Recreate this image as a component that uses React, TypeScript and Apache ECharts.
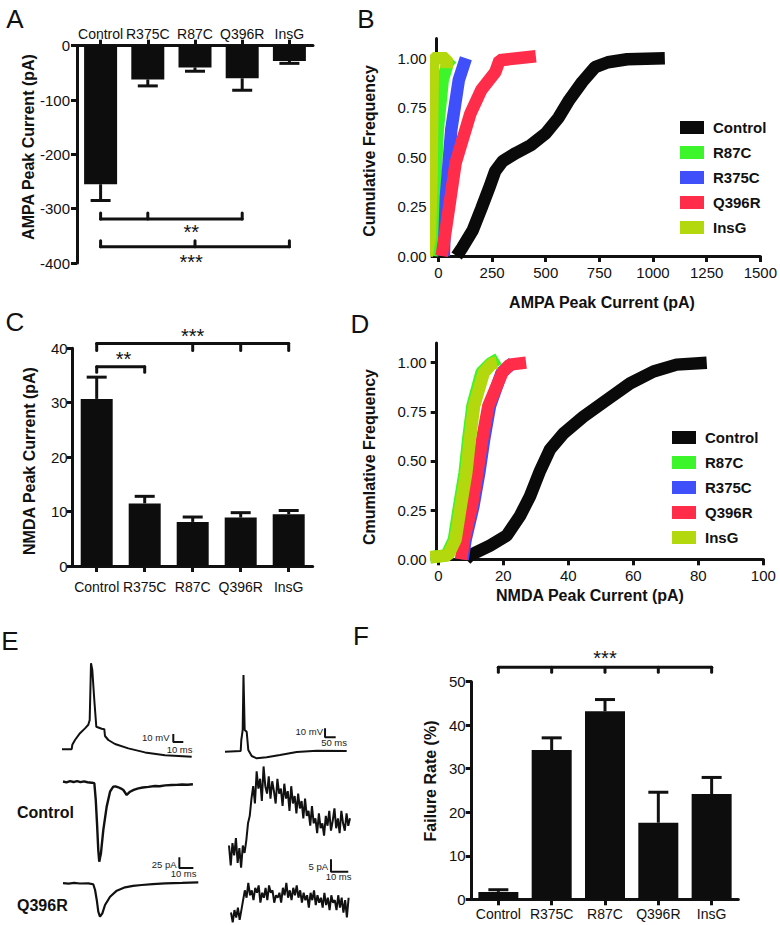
import React, { useEffect, useRef } from "react";
import * as echarts from "echarts";

const FONT = '"Liberation Sans", Arial, Helvetica, sans-serif';
const INK = "#111111";

// ---------------- Bar panels (A, C, F) ----------------
const groups = ["Control", "R375C", "R87C", "Q396R", "InsG"];
const ampaMean = [-255, -62, -40, -60, -28];
const ampaSem = [30, 12, 7, 22, 4.5];
const nmdaMean = [30.7, 11.5, 8.1, 8.9, 9.5];
const nmdaSem = [4.0, 1.3, 0.9, 0.9, 0.7];
const failMean = [1.7, 34.3, 43.2, 17.6, 24.2];
const failSem = [0.5, 2.8, 2.7, 7.0, 3.8];

// significance brackets (category indices, value levels)
const bracketsA = [
  { from: 0, to: 3, ticks: [0, 1, 3], level: -319, tickTo: -308, label: "**", labelX: 1.92, labelAt: -343 },
  { from: 0, to: 4, ticks: [0, 2, 4], level: -370, tickTo: -359, label: "***", labelX: 1.92, labelAt: -398 },
];
const bracketsC = [
  { from: 0, to: 4, ticks: [0, 2, 3, 4], level: 40.9, tickTo: 39.6, label: "***", labelX: 2, labelAt: 42.3 },
  { from: 0, to: 1, ticks: [0, 1], level: 36.6, tickTo: 35.6, label: "**", labelX: 0.56, labelAt: 38.1 },
];
const bracketsF = [
  { from: 0, to: 4, ticks: [0, 1, 2, 3, 4], level: 53.3, tickTo: 52.2, label: "***", labelX: 2, labelAt: 55.5 },
];

// ---------------- Cumulative panels (B, D) ----------------
const cdfNames = ["Control", "R87C", "R375C", "Q396R", "InsG"];
const cdfColors = ["#0a0a0a", "#3cf52a", "#3f4ffa", "#ff2d4a", "#b4d80e"];
const cdfYTicks = [0, 0.25, 0.5, 0.75, 1];
const ampaCdfXTicks = [0, 250, 500, 750, 1000, 1250, 1500];
const nmdaCdfXTicks = [0, 20, 40, 60, 80, 100];

const ampaControlX = [85, 110, 160, 200, 235, 265, 300, 360, 430, 500, 560, 610, 670, 730, 790, 880, 1055];
const ampaControlY = [0, 0.04, 0.13, 0.24, 0.34, 0.43, 0.48, 0.52, 0.56, 0.62, 0.7, 0.79, 0.88, 0.955, 0.98, 0.995, 1.0];
const ampaR87CX = [-30, -26, -18, -3, 20, 45, 62];
const ampaR87CY = [0, 0.05, 0.3, 0.64, 0.89, 0.98, 1.0];
const ampaR375CX = [25, 35, 60, 95, 128];
const ampaR375CY = [0, 0.3, 0.64, 0.89, 1.0];
const ampaQ396RX = [15, 34, 80, 149, 200, 265, 285, 454];
const ampaQ396RY = [0, 0.13, 0.47, 0.72, 0.84, 0.93, 0.99, 1.01];
const ampaInsGX = [-55, -40, -32, -28, -25, 38, 38];
const ampaInsGY = [0, 0.1, 0.4, 0.8, 1.0, 1.0, 0.95];

const nmdaControlX = [8.5, 9.7, 15.9, 21, 25.1, 28.2, 31.3, 34.4, 38.5, 44.6, 51.8, 59, 66.2, 73.3, 82.6];
const nmdaControlY = [0, 0.02, 0.07, 0.12, 0.22, 0.32, 0.45, 0.56, 0.64, 0.725, 0.81, 0.895, 0.955, 0.99, 1.0];
const nmdaR87CX = [-2.5, 2.5, 4.8, 6.4, 8.1, 9.2, 10.5, 13.3, 16, 18.5];
const nmdaR87CY = [0.01, 0.02, 0.1, 0.27, 0.44, 0.61, 0.78, 0.95, 0.995, 1.02];
const nmdaR375CX = [7.5, 8.4, 10.8, 12.6, 14.1, 15.9, 19.5, 23];
const nmdaR375CY = [0, 0.1, 0.27, 0.44, 0.61, 0.78, 0.95, 1.0];
const nmdaQ396RX = [7, 7.9, 10.3, 12, 13.5, 15.4, 19.7, 22, 27];
const nmdaQ396RY = [0, 0.1, 0.27, 0.44, 0.61, 0.78, 0.95, 0.99, 1.0];
const nmdaInsGX = [-2.5, 3, 5.3, 6.9, 8.6, 9.7, 11.0, 14.0, 16.5, 18];
const nmdaInsGY = [0.01, 0.02, 0.1, 0.27, 0.44, 0.61, 0.78, 0.95, 0.995, 1.0];

// ---------------- Example traces (E) ----------------
// presynaptic action potentials (ms, mV)
const apLeftMs = [0, 9.7, 10.3, 13, 18, 23, 26.3, 27.7, 29, 30.3, 32.3, 34.3, 39.7, 42.3, 43, 46.3, 53, 66.3, 83, 103, 129.7];
const apLeftMv = [-66.5, -66.5, -61, -55, -46.5, -40.5, -36, -30, 41, 32.5, -5, -38.5, -41, -41.5, -50, -55, -60, -65.5, -70.5, -74, -76];
const apRightMs = [0, 73.6, 76.4, 79.7, 82.9, 86.7, 92.3, 101.7, 109.2, 125.2, 148.6, 195.5, 257.8, 336.2, 429.9, 570.5];
const apRightMv = [-70.2, -69.4, -57.2, -51.7, -46.1, 15, -46.1, -48, -68.3, -75, -77.6, -76.4, -73.9, -70.6, -69.1, -69.4];
// AMPA EPSCs (ms, pA)
const ampaCtrlMs = [0, 2.5, 5, 7.5, 10, 12.5, 15, 17.5, 20.5, 22.4, 23.4, 24.3, 25.2, 25.9, 27.1, 28.8, 31.2, 33.6, 35.9, 37.5, 39.5, 41.5, 43.1, 45.5, 47.9, 50.5, 53.8, 57, 61, 65.7, 69, 73, 77.6, 81, 85, 89, 92.8];
const ampaCtrlPa = [0.5, -1.5, 1.2, -0.8, 1.5, -1, 0.8, -1.2, -2.3, -3.7, -42.5, -97, -159, -186, -166.5, -112, -58, -23.3, -11.6, -11, -13, -16, -19.3, -30.9, -23.3, -19, -15.4, -13.5, -12, -10, -10.5, -8.5, -7.7, -7.5, -6.5, -7, -6];
const ampaMutMs = [0, 4, 8, 12, 18.1, 21.6, 22.9, 24.1, 25.2, 26.4, 28.1, 30, 33.6, 38.4, 44.3, 50, 56.2, 64, 72.9, 85, 96.6];
const ampaMutPa = [0.5, -0.8, 0.9, -0.5, 0, -2.3, -15.6, -38.8, -66, -77.7, -69.8, -50.5, -31.2, -17.2, -9.3, -6, -4, -2, 0, 1, 2.3];
// NMDA EPSCs sampled every 1 ms (pA)
const nmdaStepMs = 1;
const nmdaCtrlPa = [3, -5, 4, -1, 6, -4, 2, -6, 3, 0, 5, 12, 15, 22, 27, 20, 33, 26, 30, 21, 35, 27, 24, 31, 22, 29, 25, 20, 30, 24, 26, 19, 28, 22, 25, 17, 27, 20, 23, 16, 24, 18, 21, 14, 22, 15, 17, 11, 19, 12, 14, 8, 16, 10, 12, 7, 15, 11, 17, 9, 13, 18, 10, 14, 8, 17, 12, 9, 16, 11, 14];
const nmdaMutPa = [1, -3, 2, -1, 3, -2, 2, 6, 10, 7, 13, 8, 10, 6, 11, 9, 12, 5, 9, 7, 11, 6, 12, 9, 10, 5, 8, 7, 9, 5, 11, 8, 13, 7, 10, 6, 11, 8, 12, 7, 10, 5, 9, 6, 8, 3, 9, 6, 10, 4, 8, 5, 7, 3, 9, 4, 7, 2, 8, 5, 6, 2, 8, 3, 7, 1, 6, -1, 7];

// scale bars: corner (t, v) and lengths
const scaleAp1 = { t: 111.3, v: -57.5, dt: 10, dv: 10 };
const scaleAp2 = { t: 469, v: -54.2, dt: 50, dv: 10 };
const scaleAmpa = { t: 83.1, v: -200.7, dt: 10, dv: 25 };
const scaleNmda = { t: 59, v: -7.6, dt: 10, dv: 5 };

const zip = (a: number[], b: number[]) => a.map((v, i) => [v, b[i]]);
const bar = (s: { t: number; v: number; dt: number; dv: number }) => [
  [s.t, s.v + s.dv],
  [s.t, s.v],
  [s.t + s.dt, s.v],
];

const lineAxisStyle = { show: true, onZero: false, lineStyle: { color: INK, width: 3 } };
const tickStyle = { show: true, length: 6, lineStyle: { color: INK, width: 3 } };

function errorRenderer(params: any, api: any) {
  const i = api.value(0);
  const m = api.value(1);
  const e = api.value(2);
  const base = api.coord([i, m]);
  const tip = api.coord([i, m < 0 ? m - e : m + e]);
  const half = 10;
  return {
    type: "group",
    children: [
      { type: "line", shape: { x1: base[0], y1: base[1], x2: tip[0], y2: tip[1] }, style: { stroke: INK, lineWidth: 3 } },
      { type: "line", shape: { x1: tip[0] - half, y1: tip[1], x2: tip[0] + half, y2: tip[1] }, style: { stroke: INK, lineWidth: 3 } },
    ],
  };
}

function bracketRenderer(list: any[]) {
  return (params: any, api: any) => {
    const b = list[params.dataIndex];
    const a = api.coord([b.from, b.level]);
    const z = api.coord([b.to, b.level]);
    const children: any[] = [
      { type: "line", shape: { x1: a[0], y1: a[1], x2: z[0], y2: z[1] }, style: { stroke: INK, lineWidth: 3, lineCap: "round" } },
    ];
    b.ticks.forEach((t: number) => {
      const p = api.coord([t, b.level]);
      const q = api.coord([t, b.tickTo]);
      children.push({ type: "line", shape: { x1: p[0], y1: p[1], x2: q[0], y2: q[1] }, style: { stroke: INK, lineWidth: 3, lineCap: "round" } });
    });
    const lo = Math.floor(b.labelX);
    const hi = Math.ceil(b.labelX);
    const pl = api.coord([lo, b.labelAt]);
    const ph = api.coord([hi, b.labelAt]);
    const f = b.labelX - lo;
    children.push({
      type: "text",
      x: pl[0] + (ph[0] - pl[0]) * f,
      y: pl[1],
      style: { text: b.label, fill: INK, fontSize: 20, fontFamily: FONT, align: "center", verticalAlign: "middle" },
    });
    return { type: "group", children };
  };
}

function txt(text: string, x: number, y: number, size: number, opts: any = {}) {
  return {
    type: "text",
    x,
    y,
    rotation: opts.rotate ? Math.PI / 2 : 0,
    silent: true,
    style: {
      text,
      fill: opts.fill || INK,
      fontSize: size,
      fontWeight: opts.bold ? "bold" : "normal",
      fontFamily: FONT,
      align: opts.align || "center",
      verticalAlign: "middle",
    },
  };
}

function buildOption() {
  const catAxis = (gridIndex: number, position: string, margin: number) => ({
    type: "category",
    gridIndex,
    position,
    data: groups,
    axisLine: lineAxisStyle,
    axisTick: { ...tickStyle, alignWithLabel: true, interval: 0 },
    axisLabel: { color: INK, fontSize: 14, fontFamily: FONT, margin, interval: 0 },
    splitLine: { show: false },
  });
  const valAxis = (gridIndex: number, min: number, max: number, interval: number, margin: number) => ({
    type: "value",
    gridIndex,
    min,
    max,
    interval,
    axisLine: lineAxisStyle,
    axisTick: tickStyle,
    axisLabel: { color: INK, fontSize: 15, fontFamily: FONT, margin },
    splitLine: { show: false },
  });
  const cdfXAxis = (gridIndex: number, min: number, max: number, ticks: number[]) => ({
    type: "value",
    gridIndex,
    min,
    max,
    axisLine: lineAxisStyle,
    axisTick: { ...tickStyle, customValues: ticks },
    axisLabel: {
      color: INK,
      fontSize: 15,
      fontFamily: FONT,
      margin: 9,
      customValues: ticks,
      formatter: (v: number) => String(v),
    },
    splitLine: { show: false },
  });
  const cdfYAxis = (gridIndex: number) => ({
    type: "value",
    gridIndex,
    min: 0,
    max: 1.1,
    axisLine: lineAxisStyle,
    axisTick: { ...tickStyle, customValues: cdfYTicks },
    axisLabel: {
      color: INK,
      fontSize: 15,
      fontFamily: FONT,
      margin: 10,
      customValues: cdfYTicks,
      formatter: (v: number) => v.toFixed(2),
    },
    splitLine: { show: false },
  });
  const hidden = (gridIndex: number, min: number, max: number) => ({ type: "value", gridIndex, min, max, show: false });

  const grid = [
    { left: 77, top: 45.7, width: 236, height: 217.3 }, // A
    { left: 436.7, top: 38.5, width: 326.6, height: 217.5 }, // B
    { left: 72.7, top: 348.3, width: 240, height: 217.7 }, // C
    { left: 436.7, top: 343, width: 326.6, height: 216.3 }, // D
    { left: 471.7, top: 681.7, width: 266.6, height: 217.6 }, // F
    { left: 62, top: 655, width: 130, height: 105 }, // E AP left
    { left: 225, top: 670, width: 122, height: 95 }, // E AP right
    { left: 63, top: 770, width: 130, height: 100 }, // E AMPA control
    { left: 63, top: 875, width: 136, height: 50 }, // E AMPA Q396R
    { left: 229, top: 760, width: 121, height: 110 }, // E NMDA control
    { left: 231, top: 875, width: 119, height: 50 }, // E NMDA Q396R
  ];

  const xAxis = [
    catAxis(0, "top", 5),
    cdfXAxis(1, -8, 1500, ampaCdfXTicks),
    catAxis(2, "bottom", 14),
    cdfXAxis(3, -0.5, 100, nmdaCdfXTicks),
    catAxis(4, "bottom", 8),
    hidden(5, 0, 130),
    hidden(6, 0, 572),
    hidden(7, 0, 92.86),
    hidden(8, 0, 97.1),
    hidden(9, 0, 70),
    hidden(10, 0, 68.8),
  ];
  const yAxis = [
    valAxis(0, -400, 0, 100, 7),
    cdfYAxis(1),
    valAxis(2, 0, 40, 10, 5),
    cdfYAxis(3),
    valAxis(4, 0, 50, 10, 6),
    hidden(5, -80, 51.25),
    hidden(6, -85, 20.6),
    hidden(7, -205.4, 27.2),
    hidden(8, -97, 19.3),
    hidden(9, -6.9, 37.6),
    hidden(10, -4.05, 16.2),
  ];

  const series: any[] = [];
  const barPanel = (axis: number, mean: number[], sem: number[], brackets: any[], width: number) => {
    series.push({
      type: "bar",
      xAxisIndex: axis,
      yAxisIndex: axis,
      data: mean,
      barWidth: width,
      itemStyle: { color: "#0d0d0d" },
      silent: true,
    });
    series.push({
      type: "custom",
      xAxisIndex: axis,
      yAxisIndex: axis,
      data: mean.map((m, i) => [i, m, sem[i]]),
      encode: { x: 0, y: 1 },
      renderItem: errorRenderer,
      clip: false,
      silent: true,
    });
    series.push({
      type: "custom",
      xAxisIndex: axis,
      yAxisIndex: axis,
      data: brackets.map((b) => [b.from, b.level]),
      encode: { x: 0, y: 1 },
      renderItem: bracketRenderer(brackets),
      clip: false,
      silent: true,
    });
  };
  barPanel(0, ampaMean, ampaSem, bracketsA, 33);
  barPanel(2, nmdaMean, nmdaSem, bracketsC, 32);
  barPanel(4, failMean, failSem, bracketsF, 40);

  const cdfPanel = (axis: number, xs: number[][], ys: number[][]) => {
    cdfNames.forEach((name, k) => {
      series.push({
        type: "line",
        name,
        xAxisIndex: axis,
        yAxisIndex: axis,
        data: zip(xs[k], ys[k]),
        showSymbol: false,
        symbol: "none",
        clip: false,
        lineStyle: { color: cdfColors[k], width: 12.5 },
        itemStyle: { color: cdfColors[k] },
        silent: true,
      });
    });
  };
  cdfPanel(
    1,
    [ampaControlX, ampaR87CX, ampaR375CX, ampaQ396RX, ampaInsGX],
    [ampaControlY, ampaR87CY, ampaR375CY, ampaQ396RY, ampaInsGY]
  );
  cdfPanel(
    3,
    [nmdaControlX, nmdaR87CX, nmdaR375CX, nmdaQ396RX, nmdaInsGX],
    [nmdaControlY, nmdaR87CY, nmdaR375CY, nmdaQ396RY, nmdaInsGY]
  );

  const trace = (axis: number, data: number[][], width: number) => {
    series.push({
      type: "line",
      xAxisIndex: axis,
      yAxisIndex: axis,
      data,
      showSymbol: false,
      symbol: "none",
      clip: false,
      lineStyle: { color: INK, width },
      silent: true,
    });
  };
  trace(5, zip(apLeftMs, apLeftMv), 2);
  trace(5, bar(scaleAp1), 2);
  trace(6, zip(apRightMs, apRightMv), 2);
  trace(6, bar(scaleAp2), 2);
  trace(7, zip(ampaCtrlMs, ampaCtrlPa), 2.4);
  trace(7, bar(scaleAmpa), 2);
  trace(8, zip(ampaMutMs, ampaMutPa), 2.2);
  trace(9, nmdaCtrlPa.map((v, i) => [i * nmdaStepMs, v]), 2);
  trace(9, bar(scaleNmda), 2);
  trace(10, nmdaMutPa.map((v, i) => [i * nmdaStepMs, v]), 2);

  const legendBase = {
    data: cdfNames,
    orient: "vertical",
    icon: "rect",
    itemWidth: 24,
    itemHeight: 13,
    itemGap: 10,
    padding: 0,
    selectedMode: false,
    textStyle: { color: INK, fontSize: 15, fontWeight: "bold", fontFamily: FONT, padding: [0, 0, 0, 4] },
  };

  const small = { fill: "#222", align: "right" };
  const graphic = [
    txt("A", 15, 19, 26),
    txt("B", 366, 19, 26),
    txt("C", 15, 322, 26),
    txt("D", 360, 324, 26),
    txt("E", 10, 641, 26),
    txt("F", 361, 636, 26),
    txt("AMPA Peak Current (pA)", 28, 147, 16, { bold: true, rotate: true }),
    txt("Cumulative Frequency", 369, 151, 16, { bold: true, rotate: true }),
    txt("AMPA Peak Current (pA)", 602, 302, 16, { bold: true }),
    txt("NMDA Peak Current (pA)", 29, 461, 16, { bold: true, rotate: true }),
    txt("Cmumlative Frequency", 369, 457, 16, { bold: true, rotate: true }),
    txt("NMDA Peak Current (pA)", 590, 595, 16, { bold: true }),
    txt("Failure Rate (%)", 430, 781, 16, { bold: true, rotate: true }),
    txt("Control", 17, 812, 16, { bold: true, align: "left" }),
    txt("Q396R", 17, 905, 16, { bold: true, align: "left" }),
    txt("10 mV", 169.5, 737.5, 9.5, small),
    txt("10 ms", 192.5, 749, 9.5, small),
    txt("10 mV", 323, 731, 9.5, small),
    txt("50 ms", 347, 742.5, 9.5, small),
    txt("25 pA", 176.5, 864, 9.5, small),
    txt("10 ms", 196.5, 873.5, 9.5, small),
    txt("5 pA", 328, 866, 9.5, small),
    txt("10 ms", 351.5, 876, 9.5, small),
  ];

  return {
    animation: false,
    backgroundColor: "#ffffff",
    textStyle: { fontFamily: FONT },
    grid,
    xAxis,
    yAxis,
    series,
    legend: [
      { ...legendBase, left: 680, top: 120 },
      { ...legendBase, left: 672, top: 430 },
    ],
    graphic: { elements: graphic },
  };
}

export default function App() {
  const ref = useRef<HTMLDivElement>(null);
  useEffect(() => {
    document.body.style.margin = "0";
    const chart = echarts.init(ref.current as HTMLDivElement, null, { renderer: "svg" });
    chart.setOption(buildOption() as any);
    return () => chart.dispose();
  }, []);
  return <div ref={ref} style={{ width: 780, height: 925 }} />;
}
